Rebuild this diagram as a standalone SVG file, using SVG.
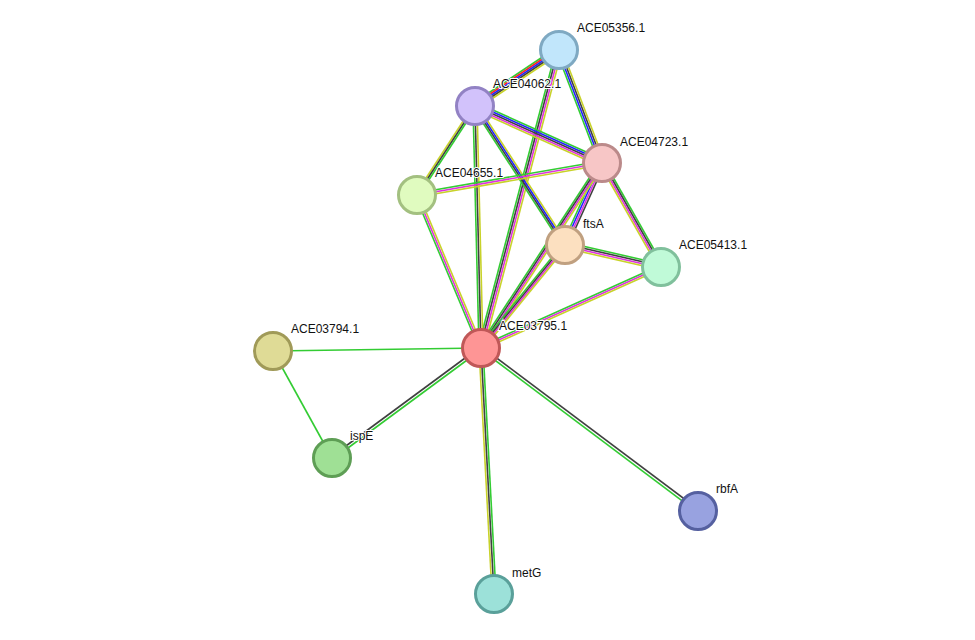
<svg xmlns="http://www.w3.org/2000/svg" xmlns:xlink="http://www.w3.org/1999/xlink" width="975" height="640" viewBox="0 0 975 640">
<style>
.g{stroke:#33cc33}.r{stroke:#ff2222}.b{stroke:#2222ff}.k{stroke:#404040}.m{stroke:#dd33dd}.y{stroke:#c8d22a}
use{stroke-width:1.6}
.n{stroke-width:3}
text{font-family:"Liberation Sans",Arial,sans-serif;font-size:12px;fill:#111;paint-order:stroke;stroke:#fff;stroke-width:2px}
</style>
<defs>
<line id="e1" x1="559" y1="50" x2="475" y2="106"/>
<line id="e2" x1="559" y1="50" x2="602" y2="163"/>
<line id="e3" x1="559" y1="50" x2="481" y2="348"/>
<line id="e4" x1="475" y1="106" x2="602" y2="163"/>
<line id="e5" x1="475" y1="106" x2="417" y2="195"/>
<line id="e6" x1="475" y1="106" x2="481" y2="348"/>
<line id="e7" x1="475" y1="106" x2="565" y2="245"/>
<line id="e8" x1="417" y1="195" x2="602" y2="163"/>
<line id="e9" x1="417" y1="195" x2="481" y2="348"/>
<line id="e10" x1="602" y1="163" x2="565" y2="245"/>
<line id="e11" x1="602" y1="163" x2="481" y2="348"/>
<line id="e12" x1="602" y1="163" x2="661" y2="267"/>
<line id="e13" x1="565" y1="245" x2="661" y2="267"/>
<line id="e14" x1="565" y1="245" x2="481" y2="348"/>
<line id="e15" x1="661" y1="267" x2="481" y2="348"/>
<line id="e16" x1="273" y1="351" x2="481" y2="348"/>
<line id="e17" x1="273" y1="351" x2="332" y2="458"/>
<line id="e18" x1="332" y1="458" x2="481" y2="348"/>
<line id="e19" x1="698" y1="511" x2="481" y2="348"/>
<line id="e20" x1="494" y1="594" x2="481" y2="348"/>
</defs>
<g id="connectors">
<use href="#e1" class="g" transform="translate(0,-4)"/><use href="#e1" class="r" transform="translate(0,-2)"/><use href="#e1" class="b"/><use href="#e1" class="k" transform="translate(0,2)"/><use href="#e1" class="y" transform="translate(0,4)"/>
<use href="#e2" class="g" transform="translate(-3,0)"/><use href="#e2" class="b" transform="translate(-1,0)"/><use href="#e2" class="k" transform="translate(1,0)"/><use href="#e2" class="y" transform="translate(3,0)"/>
<use href="#e3" class="g" transform="translate(-3,0)"/><use href="#e3" class="k" transform="translate(-1,0)"/><use href="#e3" class="m" transform="translate(1,0)"/><use href="#e3" class="y" transform="translate(3,0)"/>
<use href="#e4" class="g" transform="translate(0,-4)"/><use href="#e4" class="b" transform="translate(0,-2)"/><use href="#e4" class="k"/><use href="#e4" class="m" transform="translate(0,2)"/><use href="#e4" class="y" transform="translate(0,4)"/>
<use href="#e5" class="y" transform="translate(-2,0)"/><use href="#e5" class="k"/><use href="#e5" class="g" transform="translate(2,0)"/>
<use href="#e6" class="g" transform="translate(-2,0)"/><use href="#e6" class="k"/><use href="#e6" class="y" transform="translate(2,0)"/>
<use href="#e7" class="g" transform="translate(-3,0)"/><use href="#e7" class="k" transform="translate(-1,0)"/><use href="#e7" class="b" transform="translate(1,0)"/><use href="#e7" class="y" transform="translate(3,0)"/>
<use href="#e8" class="g" transform="translate(0,-2)"/><use href="#e8" class="m"/><use href="#e8" class="y" transform="translate(0,2)"/>
<use href="#e9" class="g" transform="translate(-2,0)"/><use href="#e9" class="m"/><use href="#e9" class="y" transform="translate(2,0)"/>
<use href="#e10" class="g" transform="translate(-3,0)"/><use href="#e10" class="b" transform="translate(-1,0)"/><use href="#e10" class="m" transform="translate(1,0)"/><use href="#e10" class="k" transform="translate(3,0)"/>
<use href="#e11" class="g" transform="translate(-3,0)"/><use href="#e11" class="k" transform="translate(-1,0)"/><use href="#e11" class="m" transform="translate(1,0)"/><use href="#e11" class="y" transform="translate(3,0)"/>
<use href="#e12" class="g" transform="translate(3,0)"/><use href="#e12" class="k" transform="translate(1,0)"/><use href="#e12" class="m" transform="translate(-1,0)"/><use href="#e12" class="y" transform="translate(-3,0)"/>
<use href="#e13" class="g" transform="translate(0,-3)"/><use href="#e13" class="k" transform="translate(0,-1)"/><use href="#e13" class="m" transform="translate(0,1)"/><use href="#e13" class="y" transform="translate(0,3)"/>
<use href="#e14" class="g" transform="translate(-3,0)"/><use href="#e14" class="k" transform="translate(-1,0)"/><use href="#e14" class="m" transform="translate(1,0)"/><use href="#e14" class="y" transform="translate(3,0)"/>
<use href="#e15" class="g" transform="translate(0,-2)"/><use href="#e15" class="m"/><use href="#e15" class="y" transform="translate(0,2)"/>
<use href="#e16" class="g"/>
<use href="#e17" class="g"/>
<use href="#e18" class="k" transform="translate(-1,-1)"/><use href="#e18" class="g" transform="translate(1,1)"/>
<use href="#e19" class="k" transform="translate(1,-1)"/><use href="#e19" class="g" transform="translate(-1,1)"/>
<use href="#e20" class="y" transform="translate(-2,0)"/><use href="#e20" class="k"/><use href="#e20" class="g" transform="translate(2,0)"/>
</g>
<g id="ACE05356.1"><circle class="n" cx="559" cy="50" r="18.5" fill="#c1e6fb" stroke="#7fa9c2"/><text x="577" y="32">ACE05356.1</text></g>
<g id="ACE04062.1"><circle class="n" cx="475" cy="106" r="18.5" fill="#d2c2fb" stroke="#9282c4"/><text x="493" y="88">ACE04062.1</text></g>
<g id="ACE04723.1"><circle class="n" cx="602" cy="163" r="18.5" fill="#f7c6c6" stroke="#bb8a8a"/><text x="620" y="146">ACE04723.1</text></g>
<g id="ACE04655.1"><circle class="n" cx="417" cy="195" r="18.5" fill="#e0fbbf" stroke="#a3c080"/><text x="435" y="177">ACE04655.1</text></g>
<g id="ftsA"><circle class="n" cx="565" cy="245" r="18.5" fill="#fce0c0" stroke="#c0a080"/><text x="583" y="228">ftsA</text></g>
<g id="ACE05413.1"><circle class="n" cx="661" cy="267" r="18.5" fill="#c0fad8" stroke="#80c09c"/><text x="679" y="249">ACE05413.1</text></g>
<g id="ACE03795.1"><circle class="n" cx="481" cy="348" r="18.5" fill="#fe9595" stroke="#c05858"/><text x="499" y="330">ACE03795.1</text></g>
<g id="ACE03794.1"><circle class="n" cx="273" cy="351" r="18.5" fill="#dfdb96" stroke="#a09a58"/><text x="291" y="333">ACE03794.1</text></g>
<g id="ispE"><circle class="n" cx="332" cy="458" r="18.5" fill="#9fe095" stroke="#5e9e55"/><text x="350" y="440">ispE</text></g>
<g id="rbfA"><circle class="n" cx="698" cy="511" r="18.5" fill="#98a2e0" stroke="#5560a0"/><text x="716" y="493">rbfA</text></g>
<g id="metG"><circle class="n" cx="494" cy="594" r="18.5" fill="#9ce1d9" stroke="#5aa09a"/><text x="512" y="577">metG</text></g>
</svg>
